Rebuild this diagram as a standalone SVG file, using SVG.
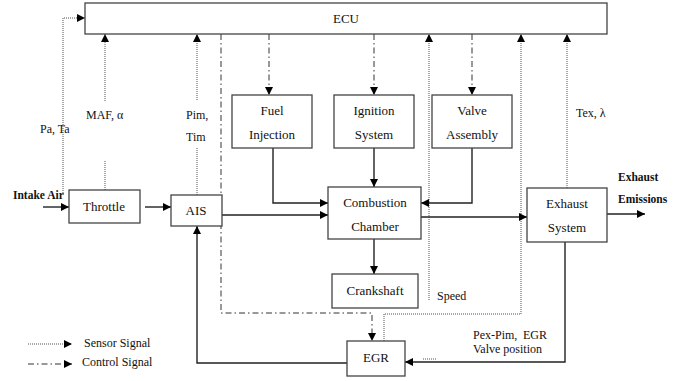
<svg xmlns="http://www.w3.org/2000/svg" width="684" height="381" viewBox="0 0 684 381">
<defs>
<marker id="ah" viewBox="0 0 10 10" refX="10" refY="5" markerWidth="8" markerHeight="8" markerUnits="userSpaceOnUse" orient="auto"><path d="M0,0 L10,5 L0,10 z" fill="#000"/></marker>
<style>
.box{fill:#fff;stroke:#444;stroke-width:1.3}
.t{font-size:13px;fill:#111;text-anchor:middle}
.l{font-size:12px;fill:#111}
.b{font-size:11.5px;font-weight:bold;fill:#111}
.s{fill:none;stroke:#222;stroke-width:1.4}
.sen{fill:none;stroke:#555;stroke-width:1;stroke-dasharray:1,1}
.ctl{fill:none;stroke:#333;stroke-width:1;stroke-dasharray:6,3,1.5,3}
</style>
</defs>
<rect width="684" height="381" fill="#fff"/>
<g id="connectors">
<path class="sen" d="M63,193 V18 H85" marker-end="url(#ah)"/>
<path class="sen" d="M105,190 V160"/><path class="sen" d="M105,101 V34" marker-end="url(#ah)"/>
<path class="sen" d="M197,195 V148"/><path class="sen" d="M197,100 V34" marker-end="url(#ah)"/>
<path class="ctl" d="M221,34 V313 H372 V341" marker-end="url(#ah)"/>
<path class="ctl" d="M269,34 V95" marker-end="url(#ah)"/>
<path class="ctl" d="M374,34 V95" marker-end="url(#ah)"/>
<path class="ctl" d="M472,34 V95" marker-end="url(#ah)"/>
<path class="sen" d="M429,300 V34" marker-end="url(#ah)"/>
<path class="sen" d="M384,341 V314 H521 V34" marker-end="url(#ah)"/>
<path class="sen" d="M567,188 V34" marker-end="url(#ah)"/>
<path class="s" d="M43,207 H69" marker-end="url(#ah)"/>
<path class="s" d="M145,207 H171" marker-end="url(#ah)"/>
<path class="s" d="M273,148 V203 H328" marker-end="url(#ah)"/>
<path class="s" d="M222,215 H328" marker-end="url(#ah)"/>
<path class="s" d="M472,148 V203 H421" marker-end="url(#ah)"/>
<path class="s" d="M374,148 V187" marker-end="url(#ah)"/>
<path class="s" d="M374,239 V274" marker-end="url(#ah)"/>
<path class="s" d="M421,217 H527" marker-end="url(#ah)"/>
<path class="s" d="M607,214 H645" marker-end="url(#ah)"/>
<path class="s" d="M565,242 V362 H405" marker-end="url(#ah)"/>
<path class="s" d="M347,363 H197 V226" marker-end="url(#ah)"/>
<path class="sen" d="M423,359 H436"/>
<path class="sen" d="M28,344 H72" marker-end="url(#ah)"/>
<path class="ctl" d="M28,364 H72" marker-end="url(#ah)"/>
</g>
<g font-family="Liberation Serif, Times New Roman, Times, serif">
<g id="ecu"><rect class="box" x="85" y="3" width="522" height="31"/><text class="t" x="346" y="23">ECU</text></g>
<g id="fuel"><rect class="box" x="232" y="95" width="80" height="53"/><text class="t" x="272" y="115">Fuel</text><text class="t" x="272" y="139">Injection</text></g>
<g id="ignition"><rect class="box" x="334" y="95" width="80" height="53"/><text class="t" x="374" y="115">Ignition</text><text class="t" x="374" y="139">System</text></g>
<g id="valve"><rect class="box" x="432" y="95" width="80" height="53"/><text class="t" x="472" y="115">Valve</text><text class="t" x="472" y="139">Assembly</text></g>
<g id="throttle"><rect class="box" x="69" y="190" width="71" height="33"/><text class="t" x="104" y="211">Throttle</text></g>
<g id="ais"><rect class="box" x="171" y="195" width="51" height="31"/><text class="t" x="196" y="215">AIS</text></g>
<g id="combustion"><rect class="box" x="328" y="187" width="93" height="52"/><text class="t" x="375" y="207">Combustion</text><text class="t" x="375" y="231">Chamber</text></g>
<g id="crankshaft"><rect class="box" x="332" y="274" width="86" height="34"/><text class="t" x="375" y="295">Crankshaft</text></g>
<g id="exhaust"><rect class="box" x="527" y="188" width="80" height="54"/><text class="t" x="567" y="208">Exhaust</text><text class="t" x="567" y="232">System</text></g>
<g id="egr"><rect class="box" x="347" y="341" width="58" height="35"/><text class="t" x="376" y="362">EGR</text></g>
<g id="labels">
<text class="l" x="40" y="133">Pa, Ta</text>
<text class="l" x="86" y="119">MAF, α</text>
<text class="l" x="186" y="119">Pim,</text>
<text class="l" x="186" y="141">Tim</text>
<text class="l" x="576" y="117">Tex, λ</text>
<text class="l" x="437" y="300">Speed</text>
<text class="l" x="473" y="339">Pex-Pim,</text>
<text class="l" x="523" y="339">EGR</text>
<text class="l" x="473" y="353">Valve position</text>
<text class="b" x="13" y="199">Intake Air</text>
<text class="b" x="618" y="181">Exhaust</text>
<text class="b" x="618" y="203">Emissions</text>
<text class="l" x="84" y="347">Sensor Signal</text>
<text class="l" x="82" y="366">Control Signal</text>
</g>
</g>
</svg>
